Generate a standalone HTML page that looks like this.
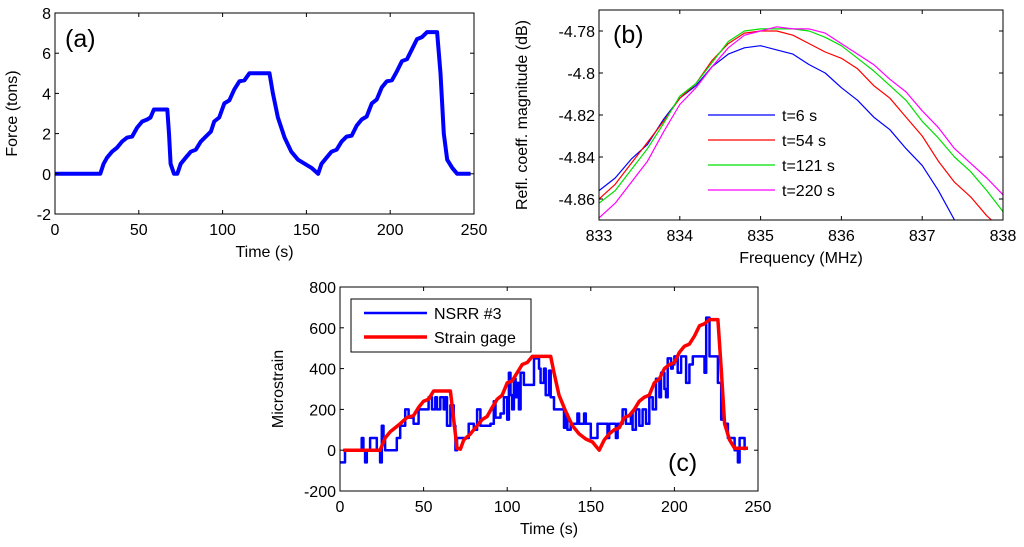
<!DOCTYPE html>
<html><head><meta charset="utf-8"><style>
html,body{margin:0;padding:0;background:#fff}
svg{display:block;font-family:"Liberation Sans",Arial,sans-serif}
</style></head><body>
<svg id="fig" width="1024" height="547" viewBox="0 0 1024 547">
<g id="pa"></g>
<g id="pb"></g>
<g id="pc"></g>
</svg>
<script>
// Panel (a) force data
const forceT=[0,27,29,31,34,37,40,43,46,49,52,55,57,59,67,68,69,71,73,75,78,81,84,87,90,93,95,98,101,104,107,110,113,116,128,130,133,137,141,145,150,153,157,159,162,165,168,171,174,177,180,183,186,189,192,195,198,201,204,207,210,213,216,219,222,228,230,232,234,237,240,248];
const forceV=[0,0,0.5,0.8,1.1,1.3,1.6,1.8,1.85,2.3,2.6,2.7,2.8,3.2,3.2,2,0.5,0,0,0.5,0.8,1.1,1.2,1.6,1.85,2.1,2.6,2.8,3.5,3.65,4.2,4.6,4.65,5.0,5.0,4.0,2.8,1.8,1.1,0.7,0.45,0.3,0,0.5,0.8,1.1,1.2,1.6,1.85,1.9,2.4,2.7,2.85,3.5,3.7,4.3,4.6,4.65,5.1,5.6,5.7,6.2,6.7,6.8,7.05,7.05,5,2,0.7,0.3,0,0];
const aXTicks=[0,50,100,150,200,250];
const aYTicks=[-2,0,2,4,6,8];
// Panel (b) spectra
const freqs=[833,833.2,833.4,833.6,833.8,834,834.2,834.4,834.6,834.8,835,835.2,835.4,835.6,835.8,836,836.2,836.4,836.6,836.8,837,837.2,837.4,837.6,837.8,838];
const spec6=[-4.856,-4.850,-4.841,-4.834,-4.822,-4.812,-4.806,-4.797,-4.791,-4.788,-4.787,-4.789,-4.791,-4.796,-4.800,-4.807,-4.813,-4.821,-4.827,-4.836,-4.844,-4.856,-4.870,-4.880,-4.890,-4.900];
const spec54=[-4.860,-4.853,-4.843,-4.833,-4.823,-4.812,-4.805,-4.794,-4.786,-4.781,-4.780,-4.780,-4.782,-4.786,-4.790,-4.793,-4.798,-4.806,-4.812,-4.821,-4.830,-4.842,-4.852,-4.859,-4.868,-4.875];
const spec121=[-4.862,-4.856,-4.846,-4.836,-4.824,-4.811,-4.805,-4.795,-4.785,-4.780,-4.779,-4.779,-4.779,-4.780,-4.783,-4.787,-4.793,-4.799,-4.806,-4.813,-4.823,-4.831,-4.840,-4.847,-4.856,-4.866];
const spec220=[-4.869,-4.862,-4.852,-4.842,-4.828,-4.815,-4.807,-4.797,-4.788,-4.782,-4.780,-4.778,-4.779,-4.779,-4.781,-4.786,-4.791,-4.796,-4.803,-4.809,-4.818,-4.826,-4.836,-4.843,-4.850,-4.858];
const bXTicks=[833,834,835,836,837,838];
const bYTicks=[-4.86,-4.84,-4.82,-4.8,-4.78];
const bYLabels=["-4.86","-4.84","-4.82","-4.8","-4.78"];
const bLegend=["t=6 s","t=54 s","t=121 s","t=220 s"];
// Panel (c) strain
const gageT=[2,24,27,30,33,36,40,44,47,50,53,56,66,68,70,72,74,78,81,85,88,91,94,97,100,103,106,109,112,115,126,128,131,135,139,143,147,151,155,158,161,164,167,170,173,176,179,182,185,188,191,194,197,200,203,206,209,212,215,218,221,226,228,230,233,236,244];
const gageV=[0,0,60,90,110,130,160,170,210,240,250,290,290,150,10,5,50,80,110,150,165,210,250,270,330,340,380,420,430,460,460,380,270,190,120,80,55,40,0,50,80,100,110,160,170,200,240,260,270,330,350,400,420,430,480,510,520,560,610,620,640,640,400,130,50,10,10];
const nsrrT=[0,2,3,12,13,14,15,16,18,21,22,24,25,26,27,33,34,36,38,39,41,43,44,46,47,52,53,55,57,58,60,62,63,64,66,68,69,70,73,75,77,80,82,84,87,90,92,93,96,98,100,101,102,103,104,105,106,107,108,110,115,116,119,120,122,123,125,126,128,132,134,135,136,138,140,142,143,145,146,147,149,150,152,154,158,160,161,163,165,166,168,169,171,172,174,175,177,179,181,183,185,187,189,191,192,194,195,196,198,199,200,202,204,207,209,211,216,218,219,221,224,226,228,230,232,234,236,238,239,241,242];
const nsrrV=[-60,-60,0,0,60,0,-60,0,60,60,0,-60,120,60,0,0,60,120,120,200,160,160,130,130,200,200,260,200,260,200,260,200,260,120,220,120,0,60,60,60,130,100,200,120,120,130,240,160,180,260,150,380,270,200,350,260,330,200,380,320,320,450,400,330,400,270,390,260,200,200,110,180,100,130,130,180,130,130,180,130,130,60,60,130,130,60,130,130,60,130,130,200,130,130,180,100,200,120,200,130,260,200,350,260,380,300,260,450,400,420,460,380,460,330,420,460,460,380,650,460,460,330,150,130,60,60,0,-60,60,60,0];
const cXTicks=[0,50,100,150,200,250];
const cYTicks=[-200,0,200,400,600,800];

const NS="http://www.w3.org/2000/svg";
const FS=16;
function mk(parent,tag,attrs,text){const e=document.createElementNS(NS,tag);for(const k in attrs)e.setAttribute(k,attrs[k]);if(text!==undefined)e.textContent=text;parent.appendChild(e);return e;}
function scale(d0,d1,r0,r1){return v=>r0+(v-d0)/(d1-d0)*(r1-r0);}

function axes(g,box,xs,ys,xt,yt,ytl,xtitle,ytitle,ytx){
  const [x0,y0,x1,y1]=box;
  for(const t of xt){const px=xs(t);
    const l1=mk(g,'line',{x1:px,x2:px,y1:y1,y2:y1-4,stroke:'#000','stroke-width':1});
    
    const l2=mk(g,'line',{x1:px,x2:px,y1:y0,y2:y0+4,stroke:'#000','stroke-width':1});
    
    const tx=mk(g,'text',{x:px,y:y1+21,'font-size':FS,'text-anchor':'middle'},String(t));
    }
  yt.forEach((t,i)=>{const py=ys(t);
    const l1=mk(g,'line',{x1:x0,x2:x0+4,y1:py,y2:py,stroke:'#000','stroke-width':1});
    
    const l2=mk(g,'line',{x1:x1,x2:x1-4,y1:py,y2:py,stroke:'#000','stroke-width':1});
    
    const tx=mk(g,'text',{x:x0-4,y:py+6,'font-size':FS,'text-anchor':'end'},ytl?ytl[i]:String(t));
    });
  const r=mk(g,'rect',{x:x0,y:y0,width:x1-x0,height:y1-y0,fill:'none',stroke:'#000','stroke-width':1});
  
  const xtt=mk(g,'text',{x:(x0+x1)/2,y:y1+43,'font-size':FS,'text-anchor':'middle'},xtitle);
  
  const cy=(y0+y1)/2;
  const ytt=mk(g,'text',{x:ytx,y:cy,'font-size':FS,'text-anchor':'middle',transform:`rotate(-90 ${ytx} ${cy})`},ytitle);
  
}
function line(g,xs,ys,X,Y,color,w,clip,name,step){
  let d='';
  X.forEach((x,i)=>{
    if(!i){d+='M'+xs(x).toFixed(1)+','+ys(Y[i]).toFixed(1);return;}
    if(step){d+='H'+xs(x).toFixed(1)+'V'+ys(Y[i]).toFixed(1);}
    else d+='L'+xs(x).toFixed(1)+','+ys(Y[i]).toFixed(1);
  });
  const p=mk(g,'path',{d:d,fill:'none',stroke:color,'stroke-width':w,'stroke-linejoin':'round','clip-path':clip?`url(#${clip})`:''});
  
  return p;
}
const defs=mk(document.getElementById('fig'),'defs',{});
function clip(id,b){const c=mk(defs,'clipPath',{id:id});mk(c,'rect',{x:b[0],y:b[1],width:b[2]-b[0],height:b[3]-b[1]});}

// Panel a
{const g=document.getElementById('pa');const box=[55,13,474,214];
 const xs=scale(0,250,55,474),ys=scale(-2,8,214,13);
 clip('ca',box);
 line(g,xs,ys,forceT,forceV,'#0000ff',4,'ca','force-line');
 axes(g,box,xs,ys,aXTicks,aYTicks,null,'Time (s)','Force (tons)',17);
 const t=mk(g,'text',{x:65,y:47,'font-size':25},'(a)');}
// Panel b
{const g=document.getElementById('pb');const box=[599,10,1003,220];
 const xs=scale(833,838,599,1003),ys=scale(-4.87,-4.77,220,10);
 clip('cb',box);
 const cols=['#0000ff','#ff0000','#00e000','#ff00ff'];
 [spec6,spec54,spec121,spec220].forEach((s,i)=>line(g,xs,ys,freqs,s,cols[i],1.2,'cb','spectrum-'+i));
 axes(g,box,xs,ys,bXTicks,bYTicks,bYLabels,'Frequency (MHz)','Refl. coeff. magnitude (dB)',527);
 bLegend.forEach((lab,i)=>{const y=115+i*25;
   const l=mk(g,'line',{x1:708,x2:775,y1:y,y2:y,stroke:cols[i],'stroke-width':1.2});
   
   const t=mk(g,'text',{x:782,y:y+6,'font-size':FS},lab);
   });
 const t=mk(g,'text',{x:613,y:43,'font-size':25},'(b)');}
// Panel c
{const g=document.getElementById('pc');const box=[340,287,758,491];
 const xs=scale(0,250,340,758),ys=scale(-200,800,491,287);
 clip('cc',box);
 line(g,xs,ys,nsrrT,nsrrV,'#0000ff',2.5,'cc','nsrr-line',true);
 line(g,xs,ys,gageT,gageV,'#ff0000',3.5,'cc','strain-gage-line');
 axes(g,box,xs,ys,cXTicks,cYTicks,null,'Time (s)','Microstrain',283);
 const lb=mk(g,'rect',{x:351,y:299,width:180,height:53,fill:'#fff',stroke:'#000','stroke-width':1});
 
 [['NSRR #3','#0000ff',2.5],['Strain gage','#ff0000',3.5]].forEach((e,i)=>{const y=313+i*24;
   const l=mk(g,'line',{x1:364,x2:427,y1:y,y2:y,stroke:e[1],'stroke-width':e[2]});
   
   const t=mk(g,'text',{x:434,y:y+6,'font-size':FS},e[0]);
   });
 const t=mk(g,'text',{x:668,y:471,'font-size':25},'(c)');}
</script>
</body></html>
